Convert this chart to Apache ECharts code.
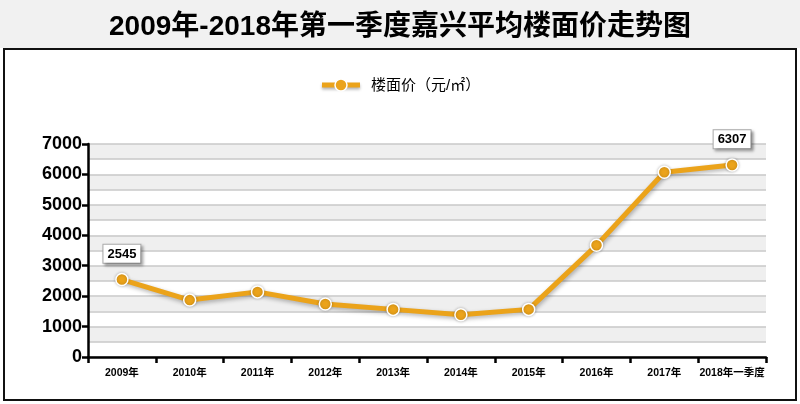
<!DOCTYPE html>
<html>
<head>
<meta charset="utf-8">
<script src="https://cdn.jsdelivr.net/npm/echarts@6/dist/echarts.min.js"></script>
<style>
html,body{margin:0;padding:0;background:#fff;}
#c{width:800px;height:404px;}
</style>
</head>
<body>
<div id="c"></div>
<script>
const titleText = '2009年-2018年第一季度嘉兴平均楼面价走势图';
const seriesName = '楼面价（元/㎡）';
const categories = ['2009年','2010年','2011年','2012年','2013年','2014年','2015年','2016年','2017年','2018年一季度'];
const values = [2545, 1870, 2140, 1740, 1565, 1390, 1565, 3670, 6070, 6307];
const labeledIdx = [0, 9];

const chart = echarts.init(document.getElementById('c'), null, {renderer:'canvas'});
const FONT = '"Liberation Sans", Arial, "Noto Sans CJK SC", sans-serif';
const orange = '#EBA31A';

chart.setOption({
  backgroundColor: '#ffffff',
  animation: false,
  graphic: [
    {type:'rect', shape:{x:0,y:0,width:800,height:48}, style:{fill:'#f1f1f1'}, z:-10},
    {type:'rect', shape:{x:4,y:49,width:792,height:351}, style:{fill:'none', stroke:'#111', lineWidth:2}, z:100},
    {type:'line', shape:{x1:322,y1:85,x2:360,y2:85}, style:{stroke:orange, lineWidth:5, shadowColor:'rgba(0,0,0,0.3)', shadowBlur:3, shadowOffsetY:2}, z:50},
    {type:'circle', shape:{cx:341,cy:85,r:6}, style:{fill:orange, stroke:'#fff', lineWidth:1.5}, z:51},
    {type:'text', x:371, y:86, style:{text:seriesName, fill:'#000', font:'15px ' + FONT, verticalAlign:'middle'}, z:51}
  ],
  title: {
    text: titleText,
    left: 'center',
    top: 8,
    textStyle: {fontFamily: FONT, fontSize: 28, fontWeight: 'bold', color: '#000'}
  },
  legend: {show: false},
  grid: {left: 88, right: 34, top: 144, bottom: 47},
  xAxis: {
    type: 'category',
    data: categories,
    name: '',
    boundaryGap: true,
    axisLine: {lineStyle: {color: '#000', width: 2.5}},
    axisTick: {show: true, length: 6, lineStyle: {color: '#000', width: 2.5}},
    axisLabel: {fontFamily: FONT, fontSize: 10.5, fontWeight: 'bold', color: '#000', margin: 11, interval: 0}
  },
  yAxis: [
    {
      type: 'value', min: 0, max: 7000, interval: 1000,
      axisLine: {show: true, lineStyle: {color: '#000', width: 2.5}},
      axisTick: {show: true, length: 6, lineStyle: {color: '#000', width: 2.5}},
      axisLabel: {fontFamily: FONT, fontSize: 18, fontWeight: 'bold', color: '#000', margin: 6,
                  formatter: function (v) { return String(v); }},
      splitLine: {show: false}
    },
    {
      type: 'value', min: 0, max: 7000, interval: 500, position: 'left',
      axisLine: {show: false}, axisTick: {show: false}, axisLabel: {show: false},
      splitLine: {show: true, lineStyle: {color: '#c8c8c8', width: 1.5}},
      splitArea: {show: true, areaStyle: {color: ['#ffffff', '#efefef']}}
    }
  ],
  series: [{
    name: seriesName,
    type: 'line',
    yAxisIndex: 0,
    data: values.map((v, i) => labeledIdx.includes(i) ? {
      value: v,
      label: {
        show: true, position: 'top', distance: 10,
        fontFamily: FONT, fontSize: 13, fontWeight: 'bold', color: '#000',
        backgroundColor: '#fff', borderColor: '#aaa', borderWidth: 1,
        padding: [3, 4, 2, 4],
        shadowColor: 'rgba(0,0,0,0.35)', shadowBlur: 3, shadowOffsetX: 2, shadowOffsetY: 2
      }
    } : v),
    symbol: 'circle',
    symbolSize: 12,
    showAllSymbol: true,
    lineStyle: {color: orange, width: 5, shadowColor: 'rgba(0,0,0,0.3)', shadowBlur: 4, shadowOffsetY: 2, shadowOffsetX: 1},
    itemStyle: {color: orange, borderColor: '#fff', borderWidth: 1.5, shadowColor: 'rgba(0,0,0,0.25)', shadowBlur: 3},
    z: 10
  }]
});
</script>
</body>
</html>
